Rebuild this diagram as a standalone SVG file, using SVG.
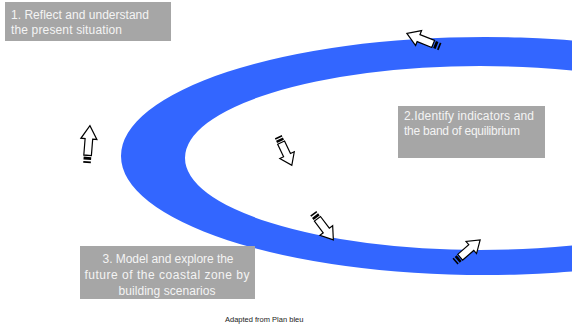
<svg xmlns="http://www.w3.org/2000/svg" xmlns:xlink="http://www.w3.org/1999/xlink" width="572" height="329" viewBox="0 0 572 329">
<style>
.box{fill:#a6a6a6}
.lbl{font-family:"Liberation Sans",Arial,sans-serif;font-size:12px;fill:#f4f4f4}
.mid{text-anchor:middle}
.note{font-family:"Liberation Sans",Arial,sans-serif;font-size:7.5px;fill:#222}
</style>
<defs>
<g id="arrow">
<path d="M7,-3.8 H22 V-8 L34,0 L22,8 V3.8 H7 Z" fill="#fff" stroke="#000" stroke-width="1.2" stroke-linejoin="miter"/>
<rect x="0" y="-3.8" width="1.6" height="7.6" fill="#000"/>
<rect x="3" y="-3.8" width="2.6" height="7.6" fill="#000"/>
</g>
</defs>
<rect width="572" height="329" fill="#fff"/>
<g id="ring">
<path fill="#3366ff" fill-rule="evenodd" d="M121,156 A364,119 0 1,1 849,156 A364,119 0 1,1 121,156 Z M185,158 A295,92 0 1,1 775,158 A295,92 0 1,1 185,158 Z"/>
</g>
<g id="step1">
<rect class="box" x="5" y="2" width="166" height="39"/>
<text class="lbl" x="11" y="19" textLength="138">1. Reflect and understand</text>
<text class="lbl" x="11" y="34" textLength="111">the present situation</text>
</g>
<g id="step2">
<rect class="box" x="398" y="106" width="147" height="52"/>
<text class="lbl" x="404" y="120" textLength="130">2.Identify indicators and</text>
<text class="lbl" x="404" y="135" textLength="116">the band of equilibrium</text>
</g>
<g id="step3">
<rect class="box" x="80" y="246" width="175" height="53"/>
<text class="lbl mid" x="168" y="263" textLength="131">3. Model and explore the</text>
<text class="lbl mid" x="167" y="279" textLength="165">future of the coastal zone by</text>
<text class="lbl mid" x="167" y="295" textLength="97">building scenarios</text>
</g>
<g id="connectors">
<use xlink:href="#arrow" transform="translate(440,46.7) rotate(201.9) scale(1.05,1)"/>
<use xlink:href="#arrow" transform="translate(87,163) rotate(-85.5) scale(1.1,1)"/>
<use xlink:href="#arrow" transform="translate(278.3,136.7) rotate(64.7) scale(0.93,1)"/>
<use xlink:href="#arrow" transform="translate(313.3,213.3) rotate(53) scale(0.98,1)"/>
<use xlink:href="#arrow" transform="translate(455,261.7) rotate(-41) scale(0.98,1)"/>
</g>
<text id="credit" class="note" x="225" y="322">Adapted from Plan bleu</text>
</svg>
